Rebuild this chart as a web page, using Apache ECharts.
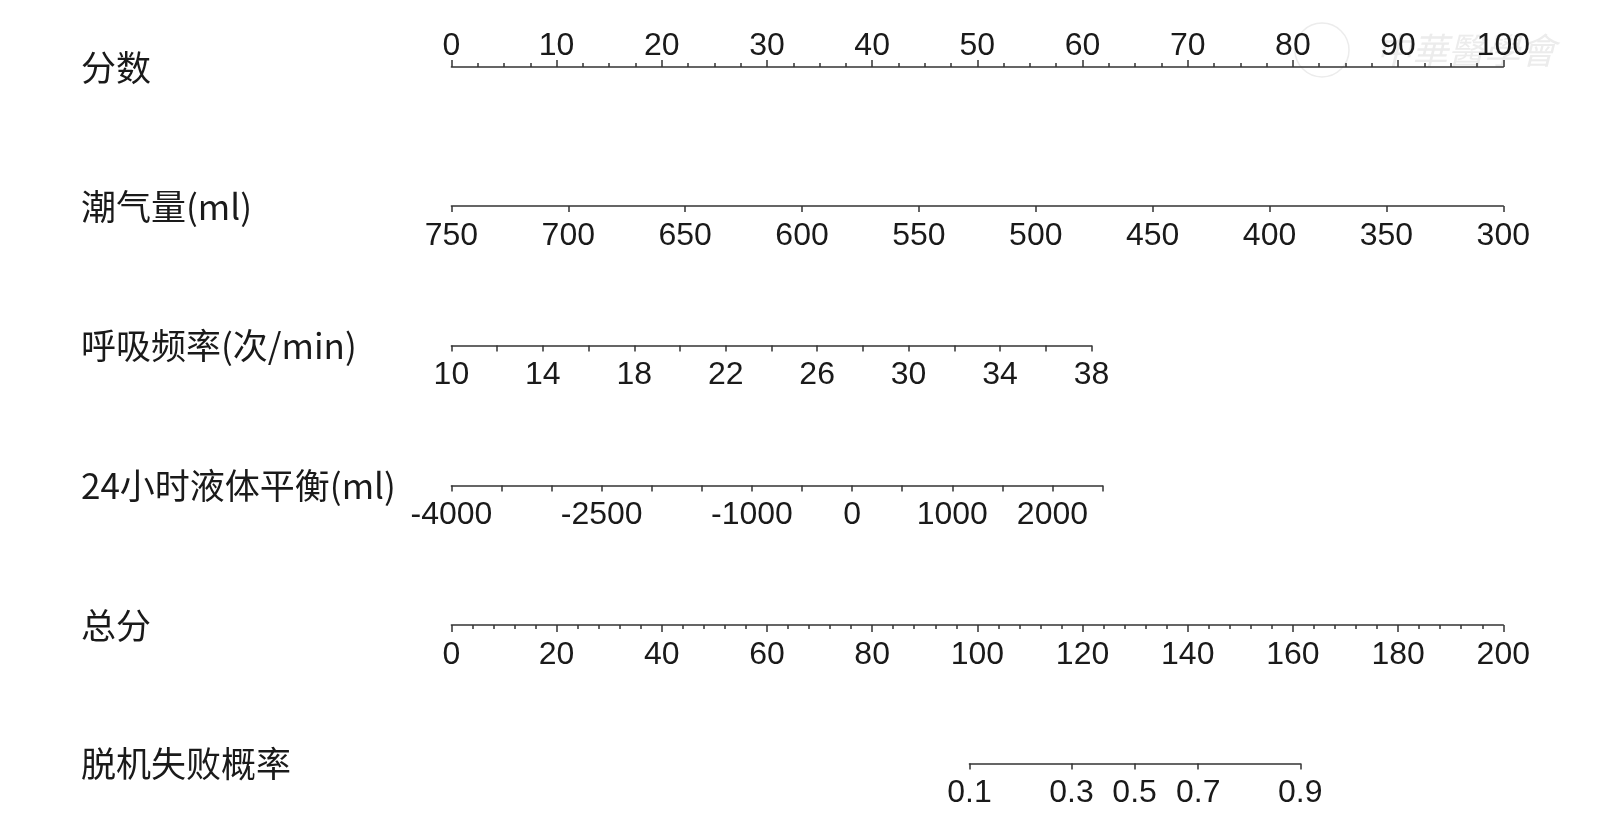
<!DOCTYPE html>
<html>
<head>
<meta charset="utf-8">
<script src="https://cdn.jsdelivr.net/npm/echarts@6/dist/echarts.min.js"></script>
<style>html,body{margin:0;padding:0;background:#fff}#c{width:1608px;height:815px}</style>
</head>
<body>
<div id="c"></div>
<script>
// ---- data ----
const rowLabels = ['分数', '潮气量(ml)', '呼吸频率(次/min)', '24小时液体平衡(ml)', '总分', '脱机失败概率'];

const pointsRange = [0, 100];
const pointsLabelStep = 10;
const pointsMinorSplit = 4;

const tidalRange = [300, 750];          // drawn reversed: 750 at 0 points
const tidalStep = 50;
const tidalPointsSpan = [0, 100];

const rrRange = [10, 38];
const rrTickStep = 2;
const rrLabels = [10, 14, 18, 22, 26, 30, 34, 38];
const rrPointsSpan = [0, 60.85];

const fluidRange = [-4000, 2500];
const fluidTickStep = 500;
const fluidLabels = [-4000, -2500, -1000, 0, 1000, 2000];
const fluidPointsSpan = [0, 61.9];

const totalRange = [0, 200];
const totalLabelStep = 20;
const totalMinorSplit = 5;

const probTicks = [0.1, 0.3, 0.5, 0.7, 0.9];
const probTotalPoints = [98.5, 117.9, 129.9, 142.0, 161.4];

// ---- layout / style ----
const AX_LEFT = 451.4, AX_WIDTH = 1051.9;
const rowY = [67, 206, 345.5, 485.5, 625, 763.5];
const LINE = { lineStyle: { color: '#333', width: 1.5 } };
const TXT = '#1a1a1a';
const TICK_FONT = '"Liberation Sans", Arial, sans-serif';
const LABEL_FONT = '"Noto Sans CJK SC", "Noto Sans", sans-serif';

function grid(i, left, width) {
  return {
    left: left, width: width, height: 1,
    top: i === 0 ? rowY[i] : rowY[i] - 1,
    containLabel: false, outerBoundsMode: 'none'
  };
}
function lbl(extra) {
  return Object.assign({
    color: TXT, fontFamily: TICK_FONT, fontSize: 32, lineHeight: 32,
    margin: 14, hideOverlap: false, showMinLabel: true, showMaxLabel: true
  }, extra || {});
}
function baseAxis(i, extra) {
  return Object.assign({
    type: 'value', gridIndex: i, position: 'bottom',
    axisLine: { show: true, onZero: false, lineStyle: LINE.lineStyle },
    axisTick: { show: true, length: 6, lineStyle: LINE.lineStyle },
    splitLine: { show: false },
    minorSplitLine: { show: false }
  }, extra);
}

const xAxes = [
  baseAxis(0, {
    position: 'top', min: pointsRange[0], max: pointsRange[1], interval: pointsLabelStep,
    axisTick: { show: true, length: 7, lineStyle: LINE.lineStyle },
    minorTick: { show: true, splitNumber: pointsMinorSplit, length: 4, lineStyle: LINE.lineStyle },
    axisLabel: lbl({ margin: 5, formatter: v => String(v) })
  }),
  baseAxis(1, {
    min: tidalRange[0], max: tidalRange[1], interval: tidalStep, inverse: true,
    axisLabel: lbl({ formatter: v => String(v) })
  }),
  baseAxis(2, {
    min: rrRange[0], max: rrRange[1], interval: rrTickStep,
    axisLabel: lbl({ formatter: v => rrLabels.indexOf(v) >= 0 ? String(v) : '' })
  }),
  baseAxis(3, {
    min: fluidRange[0], max: fluidRange[1], interval: fluidTickStep,
    axisLabel: lbl({ formatter: v => fluidLabels.indexOf(v) >= 0 ? String(v) : '' })
  }),
  baseAxis(4, {
    min: totalRange[0], max: totalRange[1], interval: totalLabelStep,
    axisTick: { show: true, length: 7, lineStyle: LINE.lineStyle },
    minorTick: { show: true, splitNumber: totalMinorSplit, length: 4, lineStyle: LINE.lineStyle },
    axisLabel: lbl({ formatter: v => String(v) })
  }),
  baseAxis(5, {
    min: probTotalPoints[0], max: probTotalPoints[probTotalPoints.length - 1],
    axisTick: { show: true, length: 6, lineStyle: LINE.lineStyle, customValues: probTotalPoints },
    axisLabel: lbl({
      customValues: probTotalPoints,
      formatter: v => {
        const k = probTotalPoints.indexOf(v);
        return k >= 0 ? String(probTicks[k]) : '';
      }
    })
  })
];

const yAxes = rowLabels.map((_, i) => ({ type: 'value', gridIndex: i, show: false, min: 0, max: 1 }));

const graphics = rowLabels.map((t, i) => ({
  type: 'text', left: 81, top: rowY[i] - 17, silent: true,
  style: { text: t, fill: TXT, font: '35px ' + LABEL_FONT, textVerticalAlign: 'top' }
}));
// faint watermark
graphics.push({
  type: 'circle', shape: { cx: 1322, cy: 50, r: 27 }, z: -1, silent: true,
  style: { fill: 'none', stroke: '#ececec', lineWidth: 1.5 }
});
graphics.push({
  type: 'text', x: 1376, y: 50, z: -1, silent: true,
  style: { text: '中華醫學會', fill: '#ececec', font: 'italic 36px "Noto Sans CJK SC"', textVerticalAlign: 'middle' }
});

const chart = echarts.init(document.getElementById('c'), null, { renderer: 'canvas' });
const grids = rowLabels.map((_, i) => grid(i, AX_LEFT, AX_WIDTH));
chart.setOption({
  animation: false,
  backgroundColor: '#fff',
  grid: grids,
  xAxis: xAxes,
  yAxis: yAxes,
  graphic: graphics,
  series: []
});

// place partial scales using the library's own points / total-points scales
function span(axisIdx, a, b) {
  const x0 = chart.convertToPixel({ xAxisIndex: axisIdx }, a);
  const x1 = chart.convertToPixel({ xAxisIndex: axisIdx }, b);
  return [x0, x1 - x0];
}
const sTidal = span(0, tidalPointsSpan[0], tidalPointsSpan[1]);
const sRR = span(0, rrPointsSpan[0], rrPointsSpan[1]);
const sFluid = span(0, fluidPointsSpan[0], fluidPointsSpan[1]);
const sProb = span(4, probTotalPoints[0], probTotalPoints[probTotalPoints.length - 1]);
grids[1] = grid(1, sTidal[0], sTidal[1]);
grids[2] = grid(2, sRR[0], sRR[1]);
grids[3] = grid(3, sFluid[0], sFluid[1]);
grids[5] = grid(5, sProb[0], sProb[1]);
chart.setOption({ grid: grids });
</script>
</body>
</html>
